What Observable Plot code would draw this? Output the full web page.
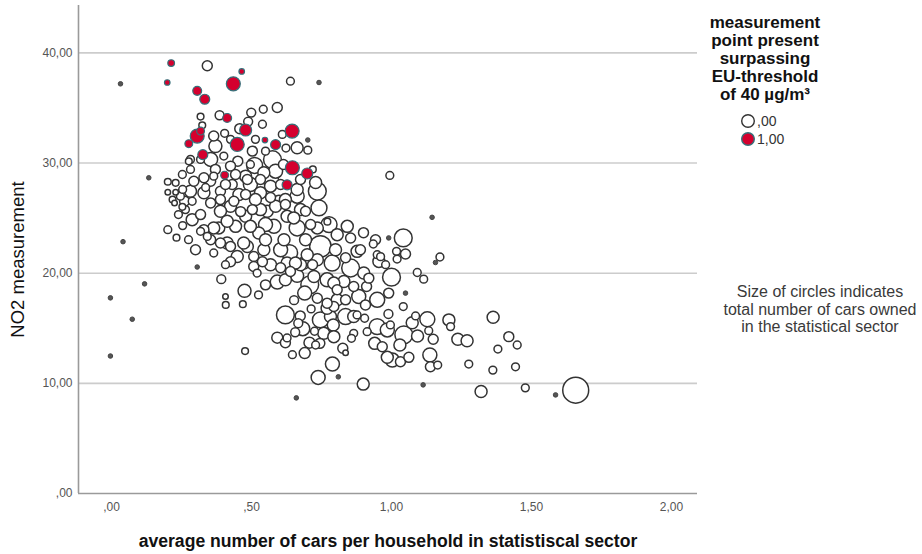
<!DOCTYPE html>
<html><head><meta charset="utf-8">
<script src="https://cdn.jsdelivr.net/npm/d3@7"></script>
<script src="https://cdn.jsdelivr.net/npm/@observablehq/plot@0.6"></script>
<style>
body{margin:0;background:#fff;font-family:"Liberation Sans",Arial,sans-serif;}
#wrap{position:relative;width:922px;height:554px;overflow:hidden;}
#legtitle{position:absolute;left:685px;top:14px;width:160px;text-align:center;font-weight:bold;font-size:17px;line-height:18px;color:#111;}
#note{position:absolute;left:700px;top:283px;width:240px;text-align:center;font-size:16px;line-height:17.5px;color:#3a3a3a;}
</style></head><body><div id="wrap"></div>
<script>
// tick values
const xTicks = [0, 0.5, 1, 1.5, 2];
const yTicks = [0, 10, 20, 30, 40];
const xTitle = "average number of cars per household in statistiscal sector";
const yTitle = "NO2 measurement";
const legendTitle = ["measurement", "point present", "surpassing", "EU-threshold", "of 40 µg/m³"];
const legendLabels = [",00", "1,00"];
const noteLines = ["Size of circles indicates", "total number of cars owned", "in the statistical sector"];

// measurement points surpassing threshold (1,00)
const redX = [0.213,0.199,0.465,0.435,0.306,0.333,0.413,0.479,0.645,0.306,0.318,0.276,0.449,0.548,0.586,0.326,0.646,0.699,0.404,0.627];
const redY = [39.07,37.31,38.31,37.19,36.55,35.79,34.09,33.00,32.90,32.45,32.90,31.76,31.69,32.09,31.67,30.76,29.57,29.05,28.90,28.02];
const redCars = [63,40,40,362,123,161,123,251,362,362,90,90,362,40,161,161,362,204,90,161];

// other sectors (,00)
const whiteX = [
0.342,0.032,0.639,0.741,0.592,0.542,0.499,0.386,0.318,0.324,0.488,0.458,0.610,0.365,0.404,0.371,0.623,0.663,0.701,0.701,0.575,0.719,0.133,0.503,0.511,0.354,0.401,0.451,0.282,0.425,0.496,0.550,
0.568,0.485,0.431,0.354,0.294,0.253,0.282,0.330,0.389,0.455,0.532,0.598,0.663,0.675,0.627,0.556,0.503,0.425,0.389,0.354,0.288,0.288,0.330,0.383,0.443,0.479,0.526,0.580,0.604,0.544,0.485,0.413,0.365,0.449,0.508,0.636,0.687,0.568,0.627,0.306,0.201,0.246,
0.201,0.229,0.201,0.229,0.225,0.253,
0.365,0.443,0.544,0.586,0.496,0.621,0.261,0.437,0.586,0.651,0.413,0.496,0.663,0.616,0.318,0.342,
0.729,0.735,0.741,0.777,0.771,0.842,0.900,0.746,0.806,0.854,0.735,0.735,0.788,0.854,0.901,0.592,0.723,0.770,0.830,0.520,0.475,0.675,0.508,
1.042,0.990,0.935,1.018,1.050,1.020,1.145,1.173,1.157,0.949,0.955,1.092,1.115,1.000,1.050,1.042,0.949,0.990,1.086,1.128,1.074,1.044,0.949,0.989,0.904,0.877,0.836,0.782,0.794,0.770,0.883,0.865,0.911,0.919,0.699,0.621,0.652,0.735,0.746,0.806,0.877,0.806,0.792,0.758,
0.826,0.836,0.940,0.967,1.003,1.032,1.062,1.137,1.139,1.165,0.985,1.030,0.913,0.865,0.857,0.794,0.899,0.810,0.789,0.738,0.985,1.093,1.133,1.149,1.205,1.211,1.237,1.270,1.363,1.419,1.449,1.380,1.276,1.362,1.443,1.320,1.478,1.586,1.658,1.113,0.660,
0.477,0.690,0.646,0.621,0.592,0.627,0.707,0.744,0.621,0.674,0.667,0.683,0.656,0.725,0.713,0.690,0.708,0.663,0.392,0.407,0.408,0.469,-0.004,0.118,0.074,-0.004,0.041,0.994,
0.407,0.532,0.693,0.365,0.550,0.425,0.389,0.472,0.568,0.663,0.330,0.479,0.657,0.794,0.770,0.865,0.961,0.639,0.276,0.614,
0.318,0.264,0.300,0.354,0.425,0.550,0.479,0.514,0.621,0.711,0.693,0.800,0.889,0.836,0.389,0.461,0.568,0.239,0.254,0.232,0.275,0.254,0.218,0.336,0.371,0.532,0.604,0.675,0.407,0.539,0.604,0.550,0.525,0.943,0.979,0.718,0.836,0.907,0.729,0.996,0.425,0.514,0.539,0.282,0.318
];
const whiteY = [
38.83,37.19,37.43,37.31,35.04,34.88,34.58,34.34,34.22,33.42,33.76,33.12,32.60,32.45,32.70,31.54,31.36,31.39,31.17,32.09,30.30,29.42,28.66,31.08,29.78,30.33,30.63,30.17,30.33,29.72,29.87,31.08,
28.51,28.51,28.05,28.35,28.35,28.96,27.44,27.30,27.44,27.14,27.30,26.53,26.99,25.77,25.16,25.62,25.77,26.08,25.62,26.38,26.53,24.86,23.95,24.11,24.25,25.16,23.65,24.25,22.13,22.13,22.43,22.74,21.83,21.52,21.52,21.86,20.92,20.77,20.92,20.56,23.95,26.99,
28.30,28.20,27.35,27.35,26.38,26.02,
28.81,28.96,29.12,29.26,28.05,26.68,26.53,26.53,26.08,25.02,24.71,24.25,24.11,23.04,23.80,23.34,
28.23,27.44,25.93,24.41,24.68,24.25,23.68,22.43,23.50,23.20,24.11,21.22,20.92,20.47,20.01,19.19,19.70,19.40,19.24,20.01,18.40,20.77,20.61,
23.20,23.20,22.65,21.98,21.74,21.28,25.07,21.47,20.97,21.68,21.07,20.06,19.46,19.64,18.19,16.97,17.58,18.19,16.12,15.82,15.50,14.40,15.15,16.30,15.91,16.21,16.06,16.06,16.97,17.28,17.88,18.79,18.79,19.55,21.68,19.40,17.55,17.73,15.76,18.49,21.98,17.58,15.30,14.54,
13.18,12.78,13.63,13.32,12.11,11.96,12.36,12.57,11.50,11.66,12.36,13.48,14.69,14.54,14.09,14.24,9.93,10.59,11.75,10.54,14.85,14.30,14.78,14.00,15.76,15.15,14.00,13.87,16.00,14.24,13.48,13.11,11.75,11.20,11.50,9.26,9.59,8.95,9.38,9.86,8.68,
12.93,12.75,12.60,13.69,14.15,14.12,13.69,13.63,16.21,16.12,15.46,14.96,14.64,14.73,16.76,18.19,18.94,19.76,19.46,17.88,17.12,17.19,17.76,19.03,15.82,12.48,22.86,28.87,
28.05,25.77,25.62,24.11,24.41,22.43,22.74,22.74,27.90,27.60,28.66,28.81,20.92,19.10,16.82,16.06,21.50,20.15,30.15,29.87,
25.32,25.77,22.13,23.04,21.04,23.04,27.14,26.68,26.23,24.41,23.04,22.13,22.13,21.40,26.68,25.59,26.87,25.32,24.32,23.22,23.04,27.60,26.68,27.78,29.42,28.51,28.05,28.51,20.77,21.04,20.49,18.94,18.03,23.04,20.77,20.77,17.58,17.12,13.48,15.30,32.15,32.15,33.52,29.42,30.33
];
const whiteCars = [
161,25,90,25,161,90,123,123,63,63,123,161,90,161,90,304,90,251,90,25,644,63,25,161,493,362,90,161,90,161,90,90,
493,161,161,161,161,90,251,251,161,251,251,251,362,251,251,251,161,251,251,161,90,251,161,251,251,251,251,362,362,251,251,251,90,251,161,493,251,251,251,25,90,90,
63,63,40,40,40,63,
90,161,251,362,362,251,161,161,251,251,251,251,493,251,90,90,
251,644,493,493,63,251,161,1006,251,161,251,251,493,644,251,362,251,362,251,90,304,251,161,
644,25,90,90,161,90,25,90,25,90,251,90,90,644,25,90,425,161,90,425,251,644,493,123,90,90,493,251,161,161,362,161,161,161,251,251,123,161,493,161,251,251,251,251,
161,40,251,161,362,161,161,362,161,90,251,251,90,90,90,251,251,25,362,362,362,251,90,161,251,90,251,251,251,161,90,90,90,90,90,251,90,25,1572,25,25,
63,204,90,161,204,90,204,161,644,161,123,362,123,90,90,362,644,304,123,40,63,63,25,25,25,25,25,90,
161,251,161,251,362,161,161,251,251,251,161,251,251,251,251,251,90,161,63,161,
161,90,161,161,161,251,161,251,161,161,251,251,161,161,161,161,161,90,90,63,90,90,63,90,161,161,161,161,90,161,161,161,90,161,90,161,161,161,90,90,90,90,90,90,90
];

const white = whiteX.map((x, i) => ({x, y: whiteY[i], cars: whiteCars[i]}));
const whiteRings = white.filter(d => d.cars > 25);
const whiteDots = white.filter(d => d.cars <= 25);
const red = redX.map((x, i) => ({x, y: redY[i], cars: redCars[i]}));

const fmt = v => d3.format(".2f")(v).replace(".", ",").replace(/^0,/, ",");
const font = '"Liberation Sans", Arial, sans-serif';
const xMin = -0.118;
const redFill = "#d4002e", redStroke = "#35707a", ringStroke = "#333333";

const chart = Plot.plot({
  width: 922, height: 554,
  marginLeft: 78, marginRight: 225, marginTop: 5, marginBottom: 61,
  style: {fontFamily: font, background: "white", overflow: "visible"},
  x: {domain: [xMin, 2.093]},
  y: {domain: [0, 44.3]},
  r: {type: "pow", exponent: 0.42, domain: [0, 1700], range: [0, 13.4]},
  marks: [
    Plot.gridY(yTicks.filter(d => d > 0), {stroke: "#cccccc", strokeWidth: 1.6, strokeOpacity: 1}),
    Plot.ruleY([0], {stroke: "#9a9a9a", strokeWidth: 1.6}),
    Plot.ruleX([xMin], {stroke: "#9a9a9a", strokeWidth: 1.6}),
    Plot.axisX(xTicks, {tickSize: 0, tickPadding: 9, tickFormat: fmt, fontSize: 12, fill: "#555", label: null}),
    Plot.axisY(yTicks, {tickSize: 0, tickPadding: 6, tickFormat: fmt, fontSize: 12, fill: "#555", label: null}),
    Plot.dot(whiteRings, {x: "x", y: "y", r: "cars", fill: "white", stroke: ringStroke, strokeWidth: 1.5}),
    Plot.dot(whiteDots, {x: "x", y: "y", r: "cars", fill: "#555", stroke: "#444", strokeWidth: 1}),
    Plot.dot(red, {x: "x", y: "y", r: "cars", fill: redFill, stroke: redStroke, strokeWidth: 1.2}),
    Plot.text([xTitle], {frameAnchor: "bottom", dy: 48, textAnchor: "middle", lineAnchor: "middle", fontSize: 17.6, fontWeight: "bold", fill: "#111"}),
    Plot.text([yTitle], {frameAnchor: "left", rotate: -90, dx: -60, dy: 10, textAnchor: "middle", lineAnchor: "middle", fontSize: 18.5, fill: "#111"})
  ]
});

const wrap = document.getElementById("wrap");
wrap.appendChild(chart);

const lt = document.createElement("div");
lt.id = "legtitle";
lt.innerHTML = legendTitle.join("<br>");
wrap.appendChild(lt);

const ns = "http://www.w3.org/2000/svg";
const ls = document.createElementNS(ns, "svg");
ls.setAttribute("width", 70); ls.setAttribute("height", 45);
ls.style.position = "absolute"; ls.style.left = "735px"; ls.style.top = "108px";
const fills = ["white", redFill], strokes = [ringStroke, redStroke];
legendLabels.forEach((lab, i) => {
  const c = document.createElementNS(ns, "circle");
  c.setAttribute("cx", 13); c.setAttribute("cy", 13 + i * 18); c.setAttribute("r", 6.3);
  c.setAttribute("fill", fills[i]); c.setAttribute("stroke", strokes[i]); c.setAttribute("stroke-width", 1.4);
  ls.appendChild(c);
  const t = document.createElementNS(ns, "text");
  t.setAttribute("x", 22); t.setAttribute("y", 13 + i * 18); t.setAttribute("dy", "0.35em");
  t.setAttribute("font-size", 14); t.setAttribute("fill", "#333"); t.setAttribute("font-family", font);
  t.textContent = lab;
  ls.appendChild(t);
});
wrap.appendChild(ls);

const note = document.createElement("div");
note.id = "note";
note.innerHTML = noteLines.join("<br>");
wrap.appendChild(note);
</script></body></html>
